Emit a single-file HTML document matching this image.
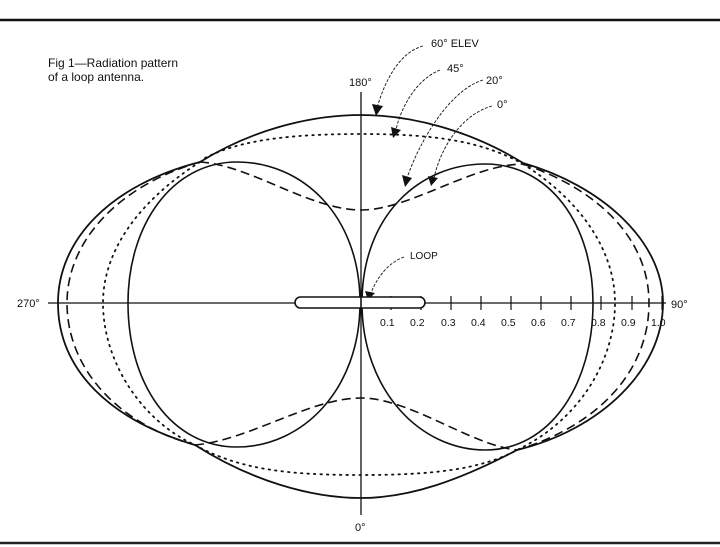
<!DOCTYPE html>
<html><head><meta charset="utf-8"><style>
html,body{margin:0;padding:0;background:#fff}
svg{display:block}
text{font-family:"Liberation Sans",sans-serif;fill:#111}
</style></head><body>
<svg width="720" height="547" viewBox="0 0 720 547" xmlns="http://www.w3.org/2000/svg">
<line x1="0" y1="20" x2="720" y2="20" stroke="#111" stroke-width="2.5"/>
<line x1="0" y1="543" x2="720" y2="543" stroke="#222" stroke-width="2.5"/>
<text x="48" y="67" font-size="12">Fig 1—Radiation pattern</text>
<text x="48" y="81" font-size="12">of a loop antenna.</text>
<g fill="none" stroke="#111">
<line x1="361" y1="92" x2="361" y2="515" stroke-width="1.3"/>
<line x1="48" y1="303" x2="666" y2="303" stroke-width="1.3"/>
<path d="M362,303 C362,215 420,164 485,164 C550,164 593,225 593,303 C593,385 550,450 485,450 C420,450 362,390 362,303 Z" stroke-width="1.6"/>
<path d="M360,303 C360,215 302,162 237,162 C172,162 128,225 128,303 C128,385 172,447 237,447 C302,447 360,390 360,303 Z" stroke-width="1.6"/>
<path d="M200,162 C260,125 320,115 361,115 C410,115 470,130 523,163 C600,185 663,240 663,303 C663,370 600,430 517,450 C460,480 410,498 361,498 C310,498 250,480 195,445 C110,420 58,370 58,303 C58,240 110,185 200,162 Z" stroke-width="1.8"/>
<g stroke-dasharray="9,5" stroke-width="1.6">
<path d="M523,164 C600,190 649,240 649,303 C649,370 600,425 517,450"/>
<path d="M200,162 C250,165 310,210 361,210 C410,210 470,165 523,164"/>
<path d="M195,445 C250,440 310,398 361,398 C410,398 470,445 517,450"/>
<path d="M200,162 C120,185 67,240 67,303 C67,370 120,425 195,445"/>
</g>
<g stroke-dasharray="1.5,5" stroke-width="1.8" stroke-linecap="round">
<path d="M205,158 C240,140 290,134 361,134 C430,134 480,140 523,164"/>
<path d="M523,164 C580,200 615,250 615,303 C615,360 580,420 517,450"/>
<path d="M195,445 C240,470 290,475 361,475 C430,475 480,470 517,450"/>
<path d="M200,162 C140,200 103,250 103,303 C103,360 140,420 195,445"/>
</g>
<g stroke-width="1.2">
<line x1="391" y1="296" x2="391" y2="310"/><line x1="421" y1="296" x2="421" y2="310"/>
<line x1="451" y1="296" x2="451" y2="310"/><line x1="481" y1="296" x2="481" y2="310"/>
<line x1="511" y1="296" x2="511" y2="310"/><line x1="541" y1="296" x2="541" y2="310"/>
<line x1="571" y1="296" x2="571" y2="310"/><line x1="601" y1="296" x2="601" y2="310"/>
<line x1="632" y1="296" x2="632" y2="310"/><line x1="662" y1="296" x2="662" y2="310"/>
</g>
<g stroke-width="0.9" stroke-dasharray="3,1.5">
<path d="M423,46 C400,52 385,80 377,108"/>
<path d="M440,70 C415,80 400,110 396,130"/>
<path d="M483,80 C450,90 420,140 407,178"/>
<path d="M492,106 C460,115 440,150 434,178"/>
<path d="M404,257 C390,262 378,275 371,293"/>
</g>
</g>
<g fill="#111">
<polygon points="372,104 383,106 376,116"/>
<polygon points="391,127 401,130 393,138"/>
<polygon points="402,175 412,178 405,187"/>
<polygon points="428,176 438,178 431,186"/>
<polygon points="365,291 375,293 368,300"/>
</g>
<rect x="295" y="297" width="130" height="11" rx="5.5" fill="#fff" stroke="#111" stroke-width="1.6"/>
<line x1="361" y1="290" x2="361" y2="315" stroke="#111" stroke-width="1.6"/>
<text x="349" y="86" font-size="11">180°</text>
<text x="431" y="47" font-size="11">60° ELEV</text>
<text x="447" y="72" font-size="11">45°</text>
<text x="486" y="84" font-size="11">20°</text>
<text x="497" y="108" font-size="11">0°</text>
<text x="410" y="259" font-size="10">LOOP</text>
<text x="17" y="307" font-size="11">270°</text>
<text x="671" y="308" font-size="11">90°</text>
<text x="355" y="531" font-size="11">0°</text>
<g font-size="10.5">
<text x="380" y="326">0.1</text><text x="410" y="326">0.2</text><text x="441" y="326">0.3</text>
<text x="471" y="326">0.4</text><text x="501" y="326">0.5</text><text x="531" y="326">0.6</text>
<text x="561" y="326">0.7</text><text x="591" y="326">0.8</text><text x="621" y="326">0.9</text>
<text x="651" y="326">1.0</text>
</g>
</svg>
</body></html>
